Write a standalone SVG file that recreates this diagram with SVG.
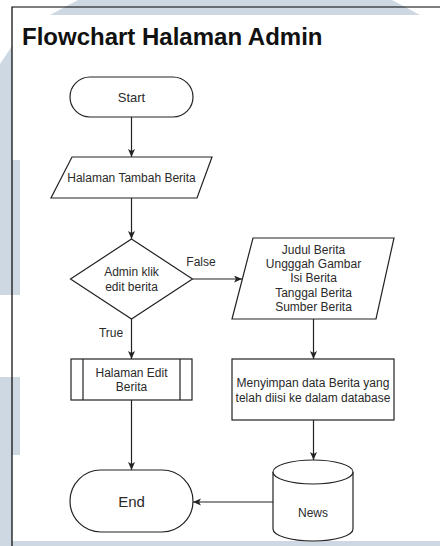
<svg xmlns="http://www.w3.org/2000/svg" width="440" height="546" viewBox="0 0 440 546">
  <style>
    .wm { fill: #cdd8e2; stroke: none; }
    .frame { stroke: #000; stroke-width: 1.2; fill: none; }
    .shape { fill: #fff; stroke: #222; stroke-width: 1.2; }
    .edge { fill: none; stroke: #222; stroke-width: 1.2; marker-end: url(#arrow); }
    .lbl { font-family: "Liberation Sans", Arial, sans-serif; font-size: 12px; fill: #2a2a2a; text-anchor: middle; }
    .title { font-family: "Liberation Sans", Arial, sans-serif; font-size: 24px; font-weight: bold; fill: #111; }
  </style>
  <defs>
    <marker id="arrow" markerUnits="userSpaceOnUse" markerWidth="9" markerHeight="8" refX="8" refY="3.5" orient="auto">
      <path d="M0,0 L8,3.5 L0,7 L2,3.5 z" fill="#222"/>
    </marker>
  </defs>

  <!-- page background and light watermark shapes -->
  <rect x="0" y="0" width="440" height="546" fill="#fff"/>
  <polygon class="wm" points="78,0 392,0 420,15 50,15"/>
  <polygon class="wm" points="0,64 12,46 12,160 0,160"/>
  <rect class="wm" x="0" y="160" width="20" height="135"/>
  <rect class="wm" x="0" y="377" width="20" height="78"/>
  <rect class="wm" x="0" y="455" width="12" height="91"/>
  <rect class="wm" x="0" y="541" width="440" height="5"/>

  <!-- frame lines -->
  <path class="frame" d="M12,546 V7 H440"/>

  <text class="title" x="22" y="45">Flowchart Halaman Admin</text>

  <!-- connectors -->
  <g id="connectors">
    <path class="edge" d="M131.5,117 V157"/>
    <path class="edge" d="M131.5,198 V239"/>
    <path class="edge" d="M192.5,279 H242"/>
    <path class="edge" d="M131.5,319 V359"/>
    <path class="edge" d="M313.5,319 V359"/>
    <path class="edge" d="M313.5,420 V460"/>
    <path class="edge" d="M131.5,400 V470"/>
    <path class="edge" d="M273,502 H193"/>
    <text class="lbl" x="201" y="266">False</text>
    <text class="lbl" x="111" y="337">True</text>
  </g>

  <g id="start">
    <rect class="shape" x="70" y="77" width="123" height="40" rx="20" ry="20"/>
    <text class="lbl" x="131.5" y="101.5" style="font-size:13px">Start</text>
  </g>

  <g id="halaman-tambah">
    <polygon class="shape" points="72,157 212,157 197,198 51,198"/>
    <text class="lbl" x="131.5" y="182">Halaman Tambah Berita</text>
  </g>

  <g id="decision">
    <polygon class="shape" points="131.5,239 192.5,279 131.5,319 70.5,279"/>
    <text class="lbl" x="131.5" y="276">Admin klik</text>
    <text class="lbl" x="131.5" y="291">edit berita</text>
  </g>

  <g id="input-berita">
    <polygon class="shape" points="253,238 394,238 376,319 232,319"/>
    <text class="lbl" x="313.5" y="254">Judul Berita</text>
    <text class="lbl" x="313.5" y="268">Ungggah Gambar</text>
    <text class="lbl" x="313.5" y="282">Isi Berita</text>
    <text class="lbl" x="313.5" y="297">Tanggal Berita</text>
    <text class="lbl" x="313.5" y="311">Sumber Berita</text>
  </g>

  <g id="halaman-edit">
    <rect class="shape" x="71" y="359" width="121" height="41"/>
    <path class="shape" d="M83,359 V400 M180,359 V400"/>
    <text class="lbl" x="131.5" y="377">Halaman Edit</text>
    <text class="lbl" x="131.5" y="391">Berita</text>
  </g>

  <g id="simpan">
    <rect class="shape" x="232" y="359" width="162" height="61"/>
    <text class="lbl" x="313" y="387">Menyimpan data Berita yang</text>
    <text class="lbl" x="313" y="402">telah diisi ke dalam database</text>
  </g>

  <g id="news-db">
    <path class="shape" d="M273,472 A40,12 0 0,1 353,472 V529 A40,12 0 0,1 273,529 Z"/>
    <path class="shape" d="M273,472 A40,12 0 0,0 353,472" fill="none"/>
    <text class="lbl" x="313" y="517">News</text>
  </g>

  <g id="end">
    <rect class="shape" x="70" y="470" width="123" height="62" rx="31" ry="31"/>
    <text class="lbl" x="131.5" y="507" style="font-size:15px">End</text>
  </g>
</svg>
